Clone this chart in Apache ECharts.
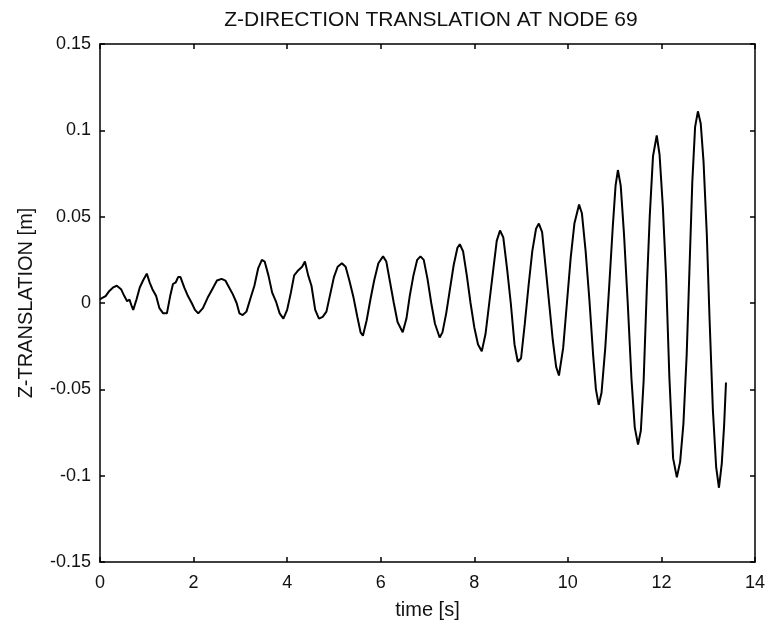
<!DOCTYPE html>
<html>
<head>
<meta charset="utf-8">
<script src="https://cdn.jsdelivr.net/npm/echarts@6/dist/echarts.min.js"></script>
<style>html,body{margin:0;padding:0;background:#fff}#c{width:768px;height:625px}</style>
</head>
<body>
<div id="c"></div>
<script>
const titleText = "Z-DIRECTION TRANSLATION AT NODE 69";
const xName = "time [s]";
const yName = "Z-TRANSLATION [m]";
const xTicks = [0, 2, 4, 6, 8, 10, 12, 14];
const yTicks = [-0.15, -0.1, -0.05, 0, 0.05, 0.1, 0.15];

const times = [
 0,0.05,0.12,0.2,0.28,0.36,
 0.45,0.52,0.58,0.63,0.68,0.71,
 0.78,0.85,0.92,1.0,
 1.06,1.12,1.2,1.27,1.35,1.43,
 1.5,1.56,1.62,1.67,1.72,
 1.8,1.88,1.96,2.03,2.1,
 2.2,2.3,2.4,2.5,2.6,2.68,
 2.76,2.84,2.92,2.98,3.05,
 3.13,3.22,3.3,3.38,3.46,3.52,
 3.6,3.68,3.76,3.84,3.92,
 4.0,4.08,4.15,4.24,4.32,4.38,
 4.45,4.52,4.6,4.68,4.76,
 4.84,4.92,5.0,5.08,5.17,5.25,
 5.33,5.42,5.5,5.57,5.62,
 5.7,5.78,5.86,5.95,6.05,6.12,
 6.2,6.28,6.36,6.47,
 6.55,6.62,6.7,6.78,6.85,6.92,
 7.0,7.08,7.16,7.26,7.32,
 7.4,7.48,7.56,7.64,7.69,7.76,
 7.84,7.92,8.0,8.08,8.16,
 8.24,8.32,8.4,8.48,8.55,8.62,
 8.7,8.78,8.86,8.93,9.0,
 9.08,9.16,9.24,9.32,9.38,9.45,
 9.52,9.6,9.68,9.75,9.81,
 9.9,9.98,10.06,10.14,10.24,10.3,
 10.38,10.46,10.54,10.6,10.66,10.72,
 10.8,10.88,10.96,11.02,11.07,11.13,
 11.2,11.28,11.36,11.43,11.5,11.56,
 11.62,11.69,11.75,11.82,11.9,11.96,
 12.03,12.1,12.17,12.25,12.33,
 12.4,12.47,12.54,12.6,12.66,12.72,12.78,12.84,
 12.9,12.97,13.03,13.1,13.17,13.23,
 13.29,13.34,13.38
];
const values = [
 0.002,0.003,0.004,0.007,0.009,0.010,
 0.008,0.004,0.001,0.002,-0.002,-0.004,
 0.002,0.009,0.013,0.017,
 0.012,0.008,0.004,-0.003,-0.006,-0.006,
 0.004,0.011,0.012,0.015,0.015,
 0.009,0.004,0.000,-0.004,-0.006,
 -0.003,0.003,0.008,0.013,0.014,0.013,
 0.009,0.005,0.000,-0.006,-0.007,
 -0.005,0.003,0.010,0.020,0.025,0.024,
 0.016,0.006,0.001,-0.006,-0.009,
 -0.004,0.006,0.016,0.019,0.021,0.024,
 0.016,0.010,-0.004,-0.009,-0.008,
 -0.005,0.005,0.015,0.021,0.023,0.021,
 0.013,0.003,-0.008,-0.017,-0.019,
 -0.010,0.002,0.013,0.023,0.027,0.024,
 0.012,0.000,-0.011,-0.017,
 -0.009,0.004,0.016,0.025,0.027,0.025,
 0.014,0.000,-0.012,-0.020,-0.017,
 -0.006,0.008,0.022,0.032,0.034,0.030,
 0.016,0.000,-0.014,-0.024,-0.028,
 -0.018,0.000,0.018,0.036,0.042,0.038,
 0.020,0.000,-0.024,-0.034,-0.032,
 -0.012,0.010,0.030,0.043,0.046,0.041,
 0.022,0.000,-0.022,-0.037,-0.042,
 -0.026,0.000,0.026,0.046,0.057,0.052,
 0.030,0.002,-0.030,-0.050,-0.059,-0.052,
 -0.026,0.008,0.044,0.068,0.077,0.068,
 0.040,0.000,-0.044,-0.072,-0.082,-0.074,
 -0.045,0.010,0.050,0.085,0.097,0.086,
 0.056,0.015,-0.043,-0.090,-0.101,
 -0.092,-0.070,-0.030,0.020,0.070,0.102,0.111,0.104,
 0.082,0.040,-0.010,-0.062,-0.095,-0.107,
 -0.093,-0.071,-0.046
];

const points = times.map((t, i) => [t, values[i]]);
const FONT = "'Liberation Sans',Arial,Helvetica,sans-serif";

const chart = echarts.init(document.getElementById('c'), null, {renderer: 'canvas'});
const lineStyle = {color: '#000', width: 1.5};
const baseX = {
  type: 'value', min: xTicks[0], max: xTicks[xTicks.length - 1], interval: 2,
  splitLine: {show: false},
  axisLine: {show: true, onZero: false, lineStyle: lineStyle},
  axisTick: {show: true, inside: true, length: 5, lineStyle: lineStyle}
};
const baseY = {
  type: 'value', min: yTicks[0], max: yTicks[yTicks.length - 1], interval: 0.05,
  splitLine: {show: false},
  axisLine: {show: true, onZero: false, lineStyle: lineStyle},
  axisTick: {show: true, inside: true, length: 5, lineStyle: lineStyle}
};
chart.setOption({
  animation: false,
  backgroundColor: '#fff',
  title: {
    text: titleText, left: 426, top: 5, textAlign: 'center',
    textStyle: {fontFamily: FONT, fontSize: 21, fontWeight: 'normal', color: '#111'}
  },
  grid: {left: 100, right: 13, top: 44, bottom: 63},
  xAxis: [
    Object.assign({}, baseX, {
      position: 'bottom',
      name: xName, nameLocation: 'middle', nameGap: 38,
      nameTextStyle: {fontFamily: FONT, fontSize: 20, color: '#111'},
      axisLabel: {fontFamily: FONT, fontSize: 18, color: '#111', margin: 12,
        formatter: v => String(v)}
    }),
    Object.assign({}, baseX, {position: 'top', axisLabel: {show: false}})
  ],
  yAxis: [
    Object.assign({}, baseY, {
      position: 'left',
      name: yName, nameLocation: 'middle', nameGap: 64, nameRotate: 90,
      nameTextStyle: {fontFamily: FONT, fontSize: 20, color: '#111'},
      axisLabel: {fontFamily: FONT, fontSize: 18, color: '#111', margin: 9,
        formatter: v => String(parseFloat(v.toFixed(2)))}
    }),
    Object.assign({}, baseY, {position: 'right', axisLabel: {show: false}})
  ],
  series: [{
    type: 'line', data: points, xAxisIndex: 0, yAxisIndex: 0,
    showSymbol: false, symbol: 'none', smooth: false,
    lineStyle: {color: '#000', width: 2}
  }]
});
</script>
</body>
</html>
